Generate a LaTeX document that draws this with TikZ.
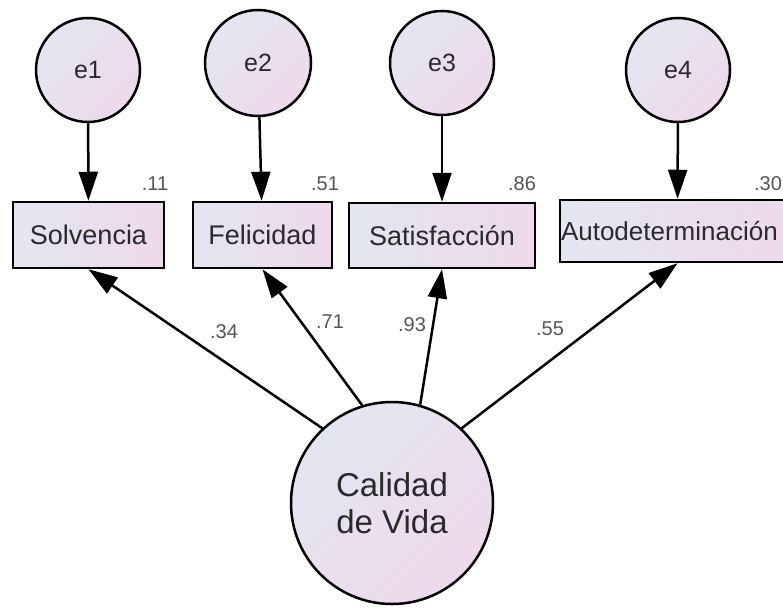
\documentclass[tikz,border=0pt]{standalone}
\usepackage{fontspec}
\setmainfont{Liberation Sans}
\usetikzlibrary{arrows.meta}
\definecolor{txt}{HTML}{2A2A2A}
\definecolor{lab}{HTML}{555555}
\definecolor{fillA}{HTML}{E3E6F0}
\definecolor{fillB}{HTML}{EED9EC}
\tikzset{
  latent/.style={circle, draw=black, line width=2.5pt, left color=fillA, right color=fillB, shading angle=45, text=txt, inner sep=0pt},
  obsbox/.style={rectangle, draw=black, line width=2.5pt, left color=fillA, right color=fillB, text=txt, inner sep=0pt, font=\fontsize{27}{31}\selectfont},
  coef/.style={text=lab, font=\fontsize{20}{23}\selectfont, inner sep=0pt},
  path/.style={draw=black, line width=2.5pt, -{Triangle[length=29pt,width=19pt]}}
}
\begin{document}
\begin{tikzpicture}[x=1pt,y=-1pt]
\useasboundingbox (0,0) rectangle (783,607);
\clip (0,0) rectangle (783,607);
% error terms
\node[latent, minimum size=104pt, font=\fontsize{25}{29}\selectfont] (e1) at (88,70) {e1};
\node[latent, minimum size=106pt, font=\fontsize{25}{29}\selectfont] (e2) at (258,63) {e2};
\node[latent, minimum size=104pt, font=\fontsize{25}{29}\selectfont] (e3) at (442,63) {e3};
\node[latent, minimum size=104pt, font=\fontsize{25}{29}\selectfont] (e4) at (678,70) {e4};
% observed variables
\node[obsbox, minimum width=151pt, minimum height=66pt] (solv) at (88.5,235) {Solvencia};
\node[obsbox, minimum width=139pt, minimum height=66pt] (fel) at (262.5,235) {Felicidad};
\node[obsbox, minimum width=186pt, minimum height=65pt] (sat) at (442,235.5) {Satisfacción};
\node[obsbox, minimum width=235pt, minimum height=62pt, text width=233pt, align=left, font=\fontsize{26}{30}\selectfont] (aut) at (677.5,231) {Autodeterminación};
% latent factor
\node[latent, minimum size=202pt, align=center, font=\fontsize{33}{37}\selectfont] (cv) at (392,503) {Calidad\\de Vida};
% error paths
\draw[path] (e1) -- (solv);
\draw[path] (e2) -- (fel);
\draw[path] (e3) -- (sat);
\draw[path] (e4) -- (aut);
% loadings
\draw[path] (cv.133) -- (solv.south);
\draw[path] (cv.107) -- (fel.south);
\draw[path] (cv.74) -- (sat.south);
\draw[path] (cv.47) -- (aut.south);
% R-squared
\node[coef] (r1) at (155,184) {.11};
\node[coef] (r2) at (325,184) {.51};
\node[coef] (r3) at (522,184) {.86};
\node[coef] (r4) at (768,184) {.30};
% coefficients
\node[coef] (l1) at (224,332) {.34};
\node[coef] (l2) at (330,322) {.71};
\node[coef] (l3) at (412,325) {.93};
\node[coef] (l4) at (550,329) {.55};
\end{tikzpicture}
\end{document}
